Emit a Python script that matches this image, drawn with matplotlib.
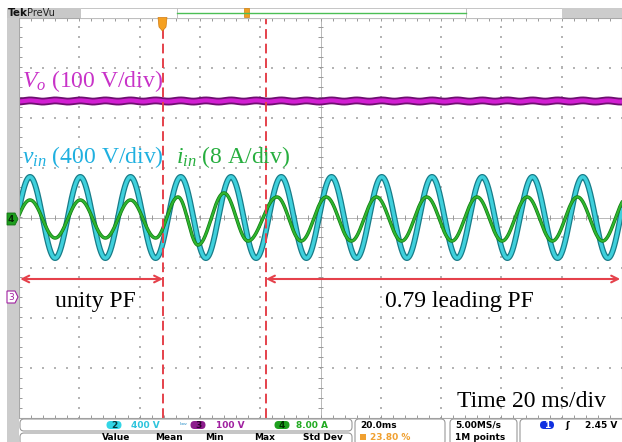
import numpy as np
import matplotlib
matplotlib.use("Agg")
import matplotlib.pyplot as plt
import matplotlib.patheffects as pe
from matplotlib.patches import Rectangle, FancyBboxPatch, Polygon

plt.rcParams['mathtext.fontset'] = 'custom'
plt.rcParams['mathtext.rm'] = 'Liberation Serif'
plt.rcParams['mathtext.it'] = 'Liberation Serif:italic'

# scope settings
time_per_div_ms = 20.0
vin_scale = 400.0      # ch2, V/div
vo_scale = 100.0       # ch3, V/div
iin_scale = 8.0        # ch4, A/div
vo_offset_div = -1.59
iin_offset_div = -0.03

# input voltage (sinusoid at line frequency)
line_freq_hz = 60.0
vin_peak_v = 325.0
vin_first_peak_ms = 3.65

# output voltage
vo_dc_v = 392.0
vo_ripple_v = 1.2

# input current: successive peaks / troughs of the trace (ms, A)
iin_ext_ms = [-4.68, 3.65, 11.98, 20.32, 28.65, 36.98, 45.32, 52.74, 59.37, 68.0,
              75.95, 85.57, 93.57, 101.9, 110.23, 118.57, 126.9, 135.23, 143.57,
              151.9, 160.23, 168.57, 176.9, 185.23, 193.57, 201.9]
iin_ext_a = [-3.04, 3.04, -3.04, 3.04, -3.04, 3.04, -3.04, 3.52, -4.16, 4.16,
             -3.52, 3.52, -3.52, 3.52, -3.52, 3.52, -3.52, 3.52, -3.52,
             3.52, -3.52, 3.52, -3.52, 3.52, -3.52, 3.52]

# instants where the PF command changes (ms)
event_ms = [47.8, 81.9]
regions = ["unity PF", "0.79 leading PF"]

red = '#e5414b'

fig = plt.figure(figsize=(6.22, 4.42), dpi=100)
fig.patch.set_facecolor('white')

# screen area: 10 x 8 divisions
ax = fig.add_axes([19 / 622, 24.5 / 442, 603 / 622, 400 / 442])
ax.set_xlim(0, 10)
ax.set_ylim(-4, 4)
ax.set_xticks([])
ax.set_yticks([])
for s in ax.spines.values():
    s.set_color('#a8a8a8')
    s.set_linewidth(0.8)

# graticule
fine = np.arange(0, 10.01, 0.2)
fine_y = np.arange(-4, 4.01, 0.2)
for xv in range(1, 10):
    if xv != 5:
        ax.scatter(np.full(fine_y.size, xv), fine_y, s=0.8, marker='s', color='#b4b4b4', lw=0)
for yv in range(-3, 4):
    if yv != 0:
        ax.scatter(fine, np.full(fine.size, yv), s=0.8, marker='s', color='#b4b4b4', lw=0)
ax.axhline(0, color='#b8b8b8', lw=0.7)
ax.axvline(5, color='#b8b8b8', lw=0.7)
ax.vlines(fine, -0.05, 0.05, color='#999999', lw=0.7)
ax.hlines(fine_y, 5 - 0.04, 5 + 0.04, color='#999999', lw=0.7)
ax.vlines(fine, 4 - 0.06, 4, color='#999999', lw=0.7)
ax.vlines(fine, -4, -4 + 0.06, color='#999999', lw=0.7)
ax.hlines(fine_y, 0, 0.05, color='#999999', lw=0.7)

# traces
t = np.linspace(0, 200, 4001)
vin = vin_peak_v * np.cos(2 * np.pi * line_freq_hz * (t - vin_first_peak_ms) / 1000)
vo = vo_dc_v + vo_ripple_v * np.cos(4 * np.pi * line_freq_hz * (t - vin_first_peak_ms) / 1000)
tk = np.array(iin_ext_ms)
ak = np.array(iin_ext_a)
j = np.clip(np.searchsorted(tk, t) - 1, 0, len(tk) - 2)
s = (t - tk[j]) / (tk[j + 1] - tk[j])
iin = ak[j] + (ak[j + 1] - ak[j]) * (1 - np.cos(np.pi * s)) / 2

x = t / time_per_div_ms
ax.plot(x, vo / vo_scale + vo_offset_div, color='#d21ed2', lw=3.0,
        path_effects=[pe.Stroke(linewidth=5.6, foreground='#6e0f70'), pe.Normal()])
ax.plot(x, vin / vin_scale, color='#3fd0dc', lw=2.4,
        path_effects=[pe.Stroke(linewidth=4.2, foreground='#187c88'), pe.Normal()])
ax.plot(x, iin / iin_scale + iin_offset_div, color='#2fb52f', lw=1.5,
        path_effects=[pe.Stroke(linewidth=2.5, foreground='#137a13'), pe.Normal()])

# event markers and region arrows
for e in event_ms:
    ax.axvline(e / time_per_div_ms, color=red, lw=1.4, dashes=(5, 2.5))
arrow_y = -1.23
spans = [(0.02, event_ms[0] / time_per_div_ms), (event_ms[1] / time_per_div_ms, 9.97)]
for a, b in spans:
    ax.annotate('', xy=(a, arrow_y), xytext=(b, arrow_y),
                arrowprops=dict(arrowstyle='<->', color=red, lw=1.5,
                                shrinkA=0, shrinkB=0, mutation_scale=12))

# overlay in pixel coordinates for labels and the scope's frame
hud = fig.add_axes([0, 0, 1, 1], facecolor='none')
hud.set_xlim(0, 622)
hud.set_ylim(442, 0)
hud.axis('off')

serif = dict(family='Liberation Serif', fontsize=17, va='baseline')
hud.text(22, 87, r'$V_o$ (100 V/div)', color='#c832c8', **serif)
hud.text(22, 163, r'$v_{in}$ (400 V/div)', color='#1fb0e0', **serif)
hud.text(176, 163, r'$i_{in}$ (8 A/div)', color='#27ae3f', **serif)
hud.text(55, 307, regions[0], color='black', **serif)
hud.text(385, 307, regions[1], color='black', **serif)
hud.text(457, 407, 'Time 20 ms/div', color='black', **serif)

# left strip and channel markers
hud.add_patch(Rectangle((7, 7.5), 11.5, 435, color='#cccccc', lw=0))
hud.add_patch(Polygon([(7, 213), (15, 213), (18, 219), (15, 225), (7, 225)],
                      closed=True, fc='#1e9e1e', ec='#127012', lw=0.6))
hud.text(11, 219.5, '4', color='#062806', fontsize=6.5, ha='center', va='center', weight='bold')
hud.add_patch(Polygon([(7, 291), (15, 291), (18, 297), (15, 303), (7, 303)],
                      closed=True, fc='white', ec='#a020a0', lw=0.8))
hud.text(11, 297.5, '3', color='#a020a0', fontsize=6.5, ha='center', va='center')

# top bar
hud.add_patch(Rectangle((7, 7.5), 73, 10, color='#c8c8c8', lw=0))
hud.text(8, 13, 'Tek', fontsize=7.5, weight='bold', va='center', color='#111111')
hud.text(27, 13, 'PreVu', fontsize=7, va='center', color='#222222')
hud.add_patch(Rectangle((80, 7.5), 97, 10, fc='white', ec='#bbbbbb', lw=0.6))
hud.add_patch(Rectangle((177, 7.5), 289, 10, fc='white', ec='#bbbbbb', lw=0.6))
hud.plot([177, 466], [12.5, 12.5], color='#4cbf55', lw=1.0)
hud.add_patch(Rectangle((466, 7.5), 96, 10, fc='white', ec='#bbbbbb', lw=0.6))
hud.add_patch(Rectangle((562, 7.5), 60, 10, color='#cccccc', lw=0))
hud.add_patch(Rectangle((243.5, 8), 5, 9, fc='#f0a020', ec='#d08010', lw=0.5))
hud.add_patch(Polygon([(158, 17.5), (167, 17.5), (166, 27), (162.5, 31), (159, 27)],
                      closed=True, fc='#f5a020', ec='#d07a10', lw=0.5))

# status bar
box = dict(boxstyle='round,pad=0,rounding_size=4', fc='white', ec='#9a9a9a', lw=0.8)
for x0, y0, w, h in [(20, 419, 332, 12), (20, 433, 332, 12), (355, 419, 90, 26),
                     (450, 419, 67, 26), (520, 419, 105, 26)]:
    hud.add_patch(FancyBboxPatch((x0, y0), w, h, **box))

small = dict(fontsize=6.5, va='center')
pills = [(114, '2', '#33d6e6', '#063a40', '400 V', '#2ec4dc', 131),
         (198, '3', '#8c1c8c', '#2a002a', '100 V', '#a020a0', 216),
         (282, '4', '#1ea01e', '#003000', '8.00 A', '#22aa22', 296)]
for cx, lab, fc, tc, val, vc, vx in pills:
    hud.add_patch(FancyBboxPatch((cx - 7.5, 421), 15, 8,
                                 boxstyle='round,pad=0,rounding_size=4', fc=fc, lw=0))
    hud.text(cx, 425.3, lab, color=tc, ha='center', weight='bold', **small)
    hud.text(vx, 425.3, val, color=vc, weight='bold', **small)
hud.text(180, 425.3, 'ᵇʷ', color='#4aa0d0', fontsize=6, va='center')
hud.add_patch(FancyBboxPatch((540, 421), 14, 8,
                             boxstyle='round,pad=0,rounding_size=4', fc='#1030e0', lw=0))
hud.text(547, 425.3, '1', color='white', ha='center', weight='bold', **small)
hud.text(565, 425.3, 'ʃ', color='black', weight='bold', **small)
hud.text(617, 425.3, '2.45 V', color='black', weight='bold', ha='right', **small)
hud.text(360, 425.3, '20.0ms', color='black', weight='bold', **small)
hud.add_patch(Rectangle((360, 433.5), 6, 6.5, color='#f0a030', lw=0))
hud.text(370, 437, '23.80 %', color='#f0a030', weight='bold', **small)
hud.text(455, 425.3, '5.00MS/s', color='black', weight='bold', **small)
hud.text(455, 437, '1M points', color='black', weight='bold', **small)
for lx, lab in [(102, 'Value'), (155, 'Mean'), (205, 'Min'), (254, 'Max'), (303, 'Std Dev')]:
    hud.text(lx, 437.5, lab, color='black', weight='bold', **small)

fig.savefig('out.png', dpi=100)
